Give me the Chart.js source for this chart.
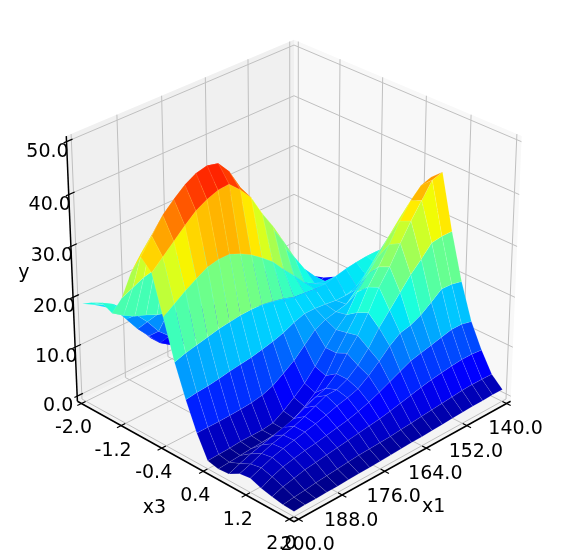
<!DOCTYPE html>
<html>
<head>
<meta charset="utf-8">
<title>Surface</title>
<script src="https://cdn.jsdelivr.net/npm/chart.js@4"></script>
<style>
  html, body { margin: 0; padding: 0; background: #fff; }
  #wrap { position: relative; width: 572px; height: 558px; }
</style>
</head>
<body>
<div id="wrap"><canvas id="surface"></canvas></div>
<script>
// x1 runs 140..200, x3 runs -2..2, one row of y per x3 value
const x1Values = [140,143,146,149,152,155,158,161,164,167,170,173,176,179,182,185,188,191,194,197,200];
const x3Values = [-2,-1.8,-1.6,-1.4,-1.2,-1,-0.8,-0.6,-0.4,-0.2,0,0.2,0.4,0.6,0.8,1,1.2,1.4,1.6,1.8,2];
const yByX3 = [
  [5,5,5,5,5,5,4.8,4.5,4,3.3,3,3,3.5,4.2,5.5,8.5,12,14.5,16,17.5,18.7],
  [5.5,5,5,5,5,5,4.8,4.5,4,3.5,3,2.8,3,4,5.5,8,10.5,13.5,16.5,18.5,20],
  [5.8,5.5,5.5,5.5,5.5,5.5,5.5,5.5,5.5,5.2,5,5,5.5,6.5,8,10,13,15.5,17.6,19.7,21],
  [6.5,6,5,5,5.5,6,7,8.1,9.4,10.5,11.5,12.3,13,13.5,14,14.8,15.5,16.5,17.3,18.5,20],
  [7.7,7,6.5,7,9,11,14,16.3,18.8,21,23,24.6,26,27,27.6,27.6,27,26.5,26,25,24],
  [7.5,7.5,8,10,12,14,17,21,25.5,29.5,33.5,36,39.5,40.5,40.5,40,39,37.6,35.6,33,30],
  [8.5,9,9.5,10.5,12.5,15.5,19,23,27.5,31.5,35.5,38.5,42.5,45,45.5,45,43.8,42,40,37,34],
  [8,9,10,11,13,16,18.5,22,26,30,33.5,37.5,40,42,41.8,41,39.8,38,36,34,32],
  [13.3,14,14.5,15,15.5,16,16.5,17.8,20.2,22.5,25,26.8,28.4,29.6,30.5,30.5,30,28.8,27.5,26,24.5],
  [18.8,19,19,18.8,18.5,18,17.5,17.5,17.8,18,18.7,19.2,19.6,19.7,19.6,19.3,19,18.5,18,17.5,16.8],
  [20,19.5,18.5,17,16,15.2,15.2,15.5,15.7,15.7,15,14,13.3,12.8,12.3,12,11.7,11.3,11,10.8,10.5],
  [26,25.5,24.5,22.5,20,17.5,15.5,15,14.5,13.5,11.5,9.5,8,6.6,5.8,5.4,5.2,5.1,5,5,5],
  [33,31.5,29.5,27,24,21.5,19,15.5,13.5,11,8.3,6,4.2,2.6,1.3,1,1,1,0.8,0.7,0.6],
  [36.7,36,34,31,27.4,24,21,17,14,11,7.5,5.2,3.5,2.2,1.2,1,0.8,0.7,0.5,0.3,0.1],
  [38.6,38,35,32,28.6,25,22,18,14.5,12,9,7.2,6.5,5.5,4.5,3.8,3.2,2.6,2,1.2,0.3],
  [28,28,27.7,25.5,23.5,21,18.5,16,13,10.7,9,8,8,7,6,5.2,4.6,4,3.2,2.3,1.5],
  [19,19.5,19.6,18,16.5,15.5,15,13.5,11.5,9.7,8.2,7.5,7,6.3,5.7,5.2,4.7,4.2,3.6,2.7,1.8],
  [12,12.5,12.5,12,11.5,11,10.5,9.5,8.5,7.5,6.6,5.9,5.3,4.9,4.5,4.1,3.8,3.4,2.9,2.1,1],
  [7.3,7.5,7.5,7.3,7,6.7,6.3,5.8,5.3,4.8,4.4,4.1,3.8,3.5,3.2,2.9,2.6,2.3,1.8,1.3,0.5],
  [3.4,3.5,3.5,3.4,3.2,3,2.8,2.6,2.4,2.2,2,1.9,1.8,1.7,1.5,1.3,1.1,0.9,0.6,0.4,0.1],
  [1.4,1.4,1.3,1.3,1.2,1.1,1,0.9,0.8,0.8,0.7,0.6,0.5,0.4,0.4,0.3,0.2,0.2,0.1,0.1,0]
];
const x1Ticks = [140,152,164,176,188,200];
const x3Ticks = [-2,-1.2,-0.4,0.4,1.2,2];
const yTicks = [0,10,20,30,40,50];

const W = 572, H = 558;
const yLimit = [0, 50];
const colorMax = 50;
const font = '19px "DejaVu Sans"';
const inkColor = '#000';

// view: elev 30, azim 45, dist 10
const view = { cx: 294, cy: 272, sx: 3140, sy: 3060, dist: 10, pad: 0.02 };

function project(a, b, c) {
  const p = a - 0.5, q = b - 0.5, r = c - 0.5;
  const right = 0.7071 * (q - p);
  const toEye = 0.6124 * (p + q) + 0.5 * r;
  const up = -0.3536 * (p + q) + 0.866 * r;
  const d = view.dist - toEye;
  return { x: view.cx + view.sx * right / d, y: view.cy - view.sy * up / d, near: toEye };
}

// box fractions of a data value, the panes run a little past the limits
const inBox = (v, lo, hi) => view.pad + (1 - 2 * view.pad) * (v - lo) / (hi - lo);
const boxX1 = v => inBox(v, 140, 200);
const boxX3 = v => inBox(v, -2, 2);
const boxY = v => inBox(v, yLimit[0], yLimit[1]);

function jet(t) {
  t = Math.min(1, Math.max(0, t));
  const ramp = (pts) => {
    for (let i = 1; i < pts.length; i++) {
      if (t <= pts[i][0]) {
        const [x0, y0] = pts[i - 1], [x1, y1] = pts[i];
        return y0 + (y1 - y0) * (t - x0) / (x1 - x0);
      }
    }
    return pts[pts.length - 1][1];
  };
  const r = ramp([[0, 0], [0.35, 0], [0.66, 1], [0.89, 1], [1, 0.5]]);
  const g = ramp([[0, 0], [0.125, 0], [0.375, 1], [0.64, 1], [0.91, 0], [1, 0]]);
  const b = ramp([[0, 0.5], [0.11, 1], [0.34, 1], [0.65, 0], [1, 0]]);
  return `rgb(${Math.round(r * 255)},${Math.round(g * 255)},${Math.round(b * 255)})`;
}

function lineSet(points, color, width, order) {
  return {
    data: points.map(p => ({ x: p.x, y: p.y })),
    showLine: true, pointRadius: 0, borderColor: color, borderWidth: width,
    fill: false, tension: 0, order: order
  };
}

function paneSet(corners, color) {
  const pts = corners.concat([corners[0]]).map(c => project(c[0], c[1], c[2]));
  return {
    data: pts.map(p => ({ x: p.x, y: p.y })),
    showLine: true, pointRadius: 0, borderWidth: 0, borderColor: color,
    backgroundColor: color, fill: 'shape', tension: 0, order: 3000
  };
}

function surfaceSets() {
  const quads = [];
  for (let i = 0; i < x3Values.length - 1; i++) {
    for (let j = 0; j < x1Values.length - 1; j++) {
      const cells = [[i, j], [i, j + 1], [i + 1, j + 1], [i + 1, j], [i, j]];
      const pts = cells.map(([n, m]) => project(boxX1(x1Values[m]), boxX3(x3Values[n]), boxY(yByX3[n][m])));
      const mean = (yByX3[i][j] + yByX3[i][j + 1] + yByX3[i + 1][j] + yByX3[i + 1][j + 1]) / 4;
      const near = pts.slice(0, 4).reduce((s, p) => s + p.near, 0) / 4;
      quads.push({ pts, mean, near });
    }
  }
  quads.sort((a, b) => b.near - a.near);
  return quads.map(q => {
    const c = jet(q.mean / colorMax);
    return {
      data: q.pts.map(p => ({ x: p.x, y: p.y })),
      showLine: true, pointRadius: 0, tension: 0, fill: 'shape',
      backgroundColor: c, borderColor: 'rgba(255,255,255,0.18)', borderWidth: 0.5, order: 0
    };
  });
}

function frameSets() {
  const sets = [
    paneSet([[1, 0, 0], [0, 0, 0], [0, 0, 1], [1, 0, 1]], '#f0f0f0'),
    paneSet([[0, 0, 0], [0, 1, 0], [0, 1, 1], [0, 0, 1]], '#f8f8f8'),
    paneSet([[0, 0, 0], [1, 0, 0], [1, 1, 0], [0, 1, 0]], '#f4f4f4')
  ];
  const grid = 'rgb(192,192,192)';
  x1Ticks.forEach(t => {
    const a = boxX1(t);
    sets.push(lineSet([project(a, 1, 0), project(a, 0, 0), project(a, 0, 1)], grid, 1, 2000));
    sets.push(lineSet([project(a, 1.018, 0), project(a, 0.982, 0)], inkColor, 1.2, 1000));
  });
  x3Ticks.forEach(t => {
    const b = boxX3(t);
    sets.push(lineSet([project(1, b, 0), project(0, b, 0), project(0, b, 1)], grid, 1, 2000));
    sets.push(lineSet([project(1.018, b, 0), project(0.982, b, 0)], inkColor, 1.2, 1000));
  });
  yTicks.forEach(t => {
    const c = boxY(t);
    sets.push(lineSet([project(1, 0, c), project(0, 0, c), project(0, 1, c)], grid, 1, 2000));
    sets.push(lineSet([project(1.012, 0, c), project(0.975, 0, c)], inkColor, 1.2, 1000));
  });
  sets.push(lineSet([project(1, 0, 0), project(1, 1, 0)], inkColor, 1.5, 1000));
  sets.push(lineSet([project(1, 1, 0), project(0, 1, 0)], inkColor, 1.5, 1000));
  sets.push(lineSet([project(1, 0, 0), project(1, 0, 1)], inkColor, 1.5, 1000));
  return sets;
}

const axisText = {
  id: 'axisText',
  afterDatasetsDraw(chart) {
    const { ctx, scales } = chart;
    const put = (txt, p, dx, dy) => ctx.fillText(txt, scales.x.getPixelForValue(p.x) + dx, scales.y.getPixelForValue(p.y) + dy);
    ctx.save();
    ctx.font = font;
    ctx.fillStyle = inkColor;
    ctx.textAlign = 'center';
    ctx.textBaseline = 'middle';
    yTicks.forEach(t => put(t.toFixed(1), project(1, 0, boxY(t)), -19, 10));
    x3Ticks.forEach(t => put(t.toFixed(1), project(1, boxX3(t), 0), -8, 25));
    x1Ticks.forEach(t => put(t.toFixed(1), project(boxX1(t), 1, 0), 9, 26));
    put('y', project(1, 0, 0.5), -48, 1);
    put('x3', project(1, 0.5, 0), -28, 48);
    put('x1', project(0.5, 1, 0), 28, 47);
    ctx.restore();
  }
};

new Chart(document.getElementById('surface'), {
  type: 'scatter',
  data: { datasets: surfaceSets().concat(frameSets()) },
  options: {
    responsive: true,
    maintainAspectRatio: false,
    animation: false,
    layout: { padding: 0 },
    events: [],
    plugins: { legend: { display: false }, tooltip: { enabled: false } },
    scales: {
      x: { type: 'linear', display: false, min: 0, max: W },
      y: { type: 'linear', display: false, min: 0, max: H, reverse: true }
    }
  },
  plugins: [axisText]
});
</script>
</body>
</html>
